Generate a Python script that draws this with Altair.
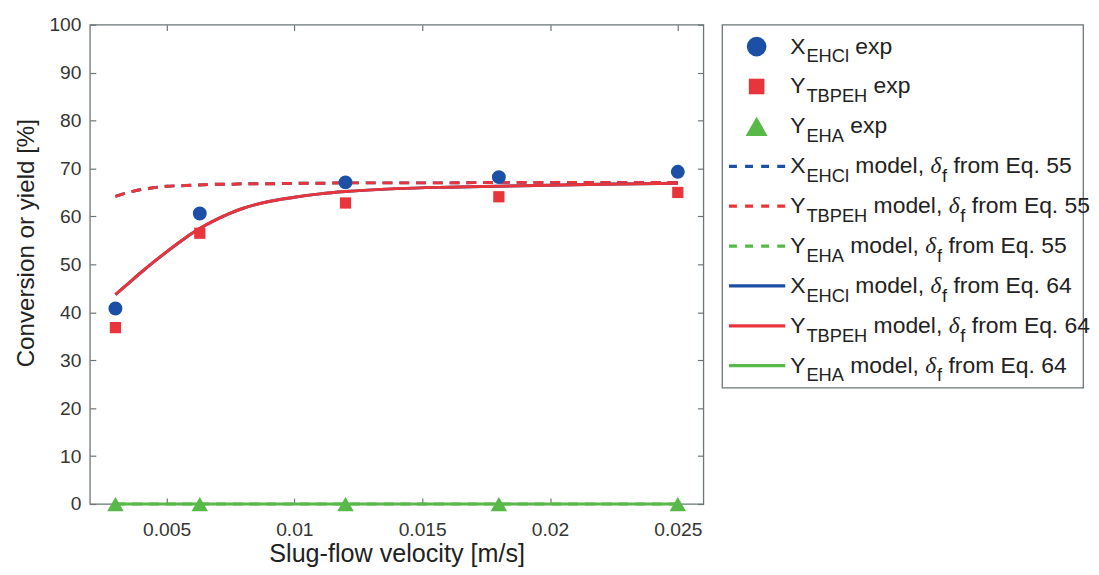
import altair as alt
import pandas as pd

# ---------------- data ----------------
velocity = [0.003, 0.0063, 0.012, 0.018, 0.025]
x_ehcl_exp = [40.8, 60.6, 67.1, 68.2, 69.3]
y_tbpeh_exp = [36.8, 56.5, 62.8, 64.1, 65.0]
y_eha_exp = [0.0, 0.0, 0.0, 0.0, 0.0]

model_v = [0.003, 0.0035, 0.004, 0.0045, 0.005, 0.0055, 0.006, 0.0065, 0.007, 0.0075,
           0.008, 0.009, 0.010, 0.011, 0.012, 0.014, 0.016, 0.018, 0.020, 0.022, 0.025]
x_ehcl_model_55 = [64.2, 65.0, 65.6, 66.0, 66.3, 66.4, 66.5, 66.6, 66.7, 66.7,
                   66.8, 66.8, 66.9, 66.9, 67.0, 67.0, 67.0, 67.1, 67.1, 67.1, 67.1]
y_tbpeh_model_55 = [64.2, 65.0, 65.6, 66.0, 66.3, 66.4, 66.5, 66.6, 66.7, 66.7,
                    66.8, 66.8, 66.9, 66.9, 67.0, 67.0, 67.0, 67.1, 67.1, 67.1, 67.1]
y_eha_model_55 = [0.0, 0.0, 0.0, 0.0, 0.0, 0.0, 0.0, 0.0, 0.0, 0.0,
                  0.0, 0.0, 0.0, 0.0, 0.0, 0.0, 0.0, 0.0, 0.0, 0.0, 0.0]
x_ehcl_model_64 = [43.7, 46.0, 48.3, 50.5, 52.6, 54.6, 56.5, 58.1, 59.5, 60.7,
                   61.7, 63.1, 64.0, 64.7, 65.2, 65.8, 66.1, 66.3, 66.5, 66.7, 66.9]
y_tbpeh_model_64 = [43.7, 46.0, 48.3, 50.5, 52.6, 54.6, 56.5, 58.1, 59.5, 60.7,
                    61.7, 63.1, 64.0, 64.7, 65.2, 65.8, 66.1, 66.3, 66.5, 66.7, 66.9]
y_eha_model_64 = [0.0, 0.0, 0.0, 0.0, 0.0, 0.0, 0.0, 0.0, 0.0, 0.0,
                  0.0, 0.0, 0.0, 0.0, 0.0, 0.0, 0.0, 0.0, 0.0, 0.0, 0.0]

x_ticks = [0.005, 0.01, 0.015, 0.02, 0.025]
y_ticks = [0, 10, 20, 30, 40, 50, 60, 70, 80, 90, 100]

legend_main = ["X", "Y", "Y", "X", "Y", "Y", "X", "Y", "Y"]
legend_sub = ["EHCl", "TBPEH", "EHA", "EHCl", "TBPEH", "EHA", "EHCl", "TBPEH", "EHA"]
legend_desc = ["exp", "exp", "exp", "model,", "model,", "model,", "model,", "model,", "model,"]
legend_eq = ["", "", "", "55", "55", "55", "64", "64", "64"]

# ---------------- styles ----------------
FONT = "Liberation Sans"
BLUE = "#1c4fa6"
RED = "#e8353b"
GREEN = "#57b947"
GRAY = "#6b7476"
LABEL = "#353535"
TEXT = "#222222"

exp_df = pd.DataFrame({"v": velocity, "x": x_ehcl_exp, "y": y_tbpeh_exp, "g": y_eha_exp})
mod_df = pd.DataFrame({
    "v": model_v,
    "x55": x_ehcl_model_55, "y55": y_tbpeh_model_55, "g55": y_eha_model_55,
    "x64": x_ehcl_model_64, "y64": y_tbpeh_model_64, "g64": y_eha_model_64,
})

xs = alt.Scale(domain=[0.002, 0.026], nice=False, zero=False)
ys = alt.Scale(domain=[0, 100], nice=False, zero=False)

common_axis = dict(
    grid=True, gridDash=[6, 2000], gridColor=GRAY, gridWidth=1.2, gridOpacity=1,
    domain=False, ticks=True, tickSize=0, tickOpacity=0,
    labelFont=FONT, titleFont=FONT, labelColor=LABEL, titleColor=TEXT,
    titleFontWeight="normal", labelFontWeight="normal",
)

x_axis = alt.Axis(values=x_ticks, orient="bottom", format="~g",
                  title="Slug-flow velocity [m/s]",
                  labelFontSize=19.5, labelPadding=17, titleFontSize=25.5, titlePadding=3,
                  labelFlush=False, **common_axis)
y_axis = alt.Axis(values=y_ticks, orient="left", title="Conversion or yield [%]",
                  labelFontSize=19.5, labelPadding=9, titleFontSize=24.5, titlePadding=11,
                  titleY=221, **common_axis)
x_axis_top = alt.Axis(values=x_ticks, orient="top", labels=False, title=None,
                      minExtent=0, maxExtent=0, **common_axis)
y_axis_right = alt.Axis(values=y_ticks, orient="right", labels=False, title=None,
                        minExtent=0, maxExtent=0, **common_axis)


def line(field, color, dashed):
    kw = dict(color=color, strokeWidth=3, interpolate="monotone")
    if dashed:
        kw["strokeDash"] = [10, 7]
    return alt.Chart(mod_df).mark_line(**kw).encode(
        x=alt.X("v:Q", scale=xs, axis=x_axis),
        y=alt.Y(f"{field}:Q", scale=ys, axis=y_axis),
    )


def pts(field, color, shape, size):
    return alt.Chart(exp_df).mark_point(shape=shape, filled=True, size=size, color=color,
                                        opacity=1, strokeWidth=0).encode(
        x=alt.X("v:Q", scale=xs, axis=x_axis),
        y=alt.Y(f"{field}:Q", scale=ys, axis=y_axis),
    )


base = alt.layer(
    line("x55", BLUE, True), line("y55", RED, True), line("g55", GREEN, True),
    line("x64", BLUE, False), line("y64", RED, False), line("g64", GREEN, False),
    pts("x", BLUE, "circle", 200), pts("y", RED, "square", 130),
    pts("g", GREEN, "triangle-up", 280),
)

mirror = alt.Chart(exp_df).mark_point(opacity=0).encode(
    x=alt.X("v:Q", scale=xs, axis=x_axis_top),
    y=alt.Y("x:Q", scale=ys, axis=y_axis_right),
)

main = alt.layer(base, mirror).resolve_axis(
    x="independent", y="independent").properties(width=622, height=486)

# ---------------- legend panel ----------------
ARIAL_W = {" ": 278, "X": 667, "Y": 667, "E": 667, "H": 722, "C": 722, "l": 222, "T": 611,
           "B": 667, "P": 667, "A": 667, "e": 556, "x": 500, "p": 556, "m": 833, "o": 556,
           "d": 556, ",": 278, "f": 278, "r": 333, "q": 556, ".": 278}


def text_w(s, size):
    return sum(ARIAL_W.get(c, 556) for c in s) * size / 1000.0


MAIN_FS, SUB_FS, DELTA_FS = 23.2, 18.5, 23.7
X0 = 69
segs = []
for i in range(len(legend_main)):
    x = X0
    segs.append(dict(row=i, txt=legend_main[i], xpos=x, kind="main"))
    x += text_w(legend_main[i], MAIN_FS) + 1
    segs.append(dict(row=i, txt=legend_sub[i], xpos=x, kind="sub"))
    x += text_w(legend_sub[i], SUB_FS) + text_w(" ", MAIN_FS)
    segs.append(dict(row=i, txt=legend_desc[i], xpos=x, kind="main"))
    if legend_eq[i]:
        x += text_w(legend_desc[i] + " ", MAIN_FS)
        segs.append(dict(row=i, txt="δ", xpos=x, kind="delta"))
        x += 0.5 * DELTA_FS
        segs.append(dict(row=i, txt="f", xpos=x, kind="sub"))
        x += text_w("f", SUB_FS) + text_w(" ", MAIN_FS)
        segs.append(dict(row=i, txt="from Eq. " + legend_eq[i], xpos=x, kind="main"))
seg_df = pd.DataFrame(segs)

sym_df = pd.DataFrame({
    "row": [0, 1, 2],
    "shape": ["circle", "square", "triangle-up"],
    "color": [BLUE, RED, GREEN],
    "size": [400, 250, 500],
})
rule_df = pd.DataFrame({
    "row": [3, 4, 5, 6, 7, 8],
    "color": [BLUE, RED, GREEN, BLUE, RED, GREEN],
    "dashed": [1, 1, 1, 0, 0, 0],
})

ly = alt.Y("row:O", scale=alt.Scale(type="point", domain=list(range(9)), padding=0.55),
           axis=None)

leg_sym = alt.Chart(sym_df).mark_point(filled=True, opacity=1, strokeWidth=0).encode(
    x=alt.value(35), y=ly,
    shape=alt.Shape("shape:N", scale=None),
    color=alt.Color("color:N", scale=None),
    size=alt.Size("size:Q", scale=None),
)
leg_dash = alt.Chart(rule_df).transform_filter("datum.dashed == 1").mark_rule(
    strokeWidth=3.3, strokeDash=[8, 8.3]).encode(
    x=alt.value(7), x2=alt.value(64), y=ly, color=alt.Color("color:N", scale=None))
leg_solid = alt.Chart(rule_df).transform_filter("datum.dashed == 0").mark_rule(
    strokeWidth=3.3).encode(
    x=alt.value(7), x2=alt.value(64), y=ly, color=alt.Color("color:N", scale=None))


def seg_layer(kind, **mk):
    return alt.Chart(seg_df).transform_filter(f"datum.kind == '{kind}'").mark_text(
        align="left", baseline="middle", color=TEXT, **mk).encode(
        x=alt.X("xpos:Q", scale=None, axis=None), y=ly, text="txt:N")


legend = alt.layer(
    leg_dash, leg_solid, leg_sym,
    seg_layer("main", font=FONT, fontSize=MAIN_FS),
    seg_layer("sub", font=FONT, fontSize=SUB_FS, dy=10),
    seg_layer("delta", font="Liberation Serif", fontStyle="italic", fontSize=DELTA_FS),
).properties(width=366, height=368)

chart = alt.hconcat(main, legend, spacing=19, bounds="flush").properties(
    padding={"left": 4, "top": 2, "right": 0, "bottom": 0}
).configure_view(stroke=GRAY, strokeWidth=1.3)

chart.save("out.html", embed_options={"renderer": "svg", "actions": False})
